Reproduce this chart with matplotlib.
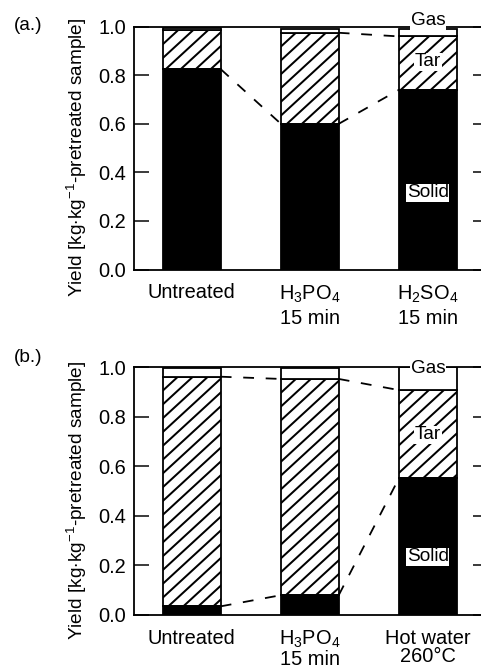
import matplotlib
matplotlib.use("Agg")
import numpy as np
from matplotlib import pyplot as plt
from matplotlib.collections import LineCollection
from matplotlib.transforms import IdentityTransform

plt.rcParams['font.family'] = ['Liberation Sans', 'DejaVu Sans']
plt.rcParams['mathtext.fontset'] = 'custom'
plt.rcParams['mathtext.rm'] = 'Liberation Sans'
plt.rcParams['mathtext.it'] = 'Liberation Sans:italic'

# panel (a)
labels_a = ['Untreated', 'H$_3$PO$_4$\n15 min', 'H$_2$SO$_4$\n15 min']
solid_a = [0.825, 0.60, 0.74]
tar_a = [0.16, 0.375, 0.22]
gas_a = [0.01, 0.015, 0.03]

# panel (b)
labels_b = ['Untreated', 'H$_3$PO$_4$\n15 min', 'Hot water\n260°C']
solid_b = [0.035, 0.08, 0.552]
tar_b = [0.927, 0.873, 0.356]
gas_b = [0.035, 0.045, 0.092]

W, H = 481, 669
fig = plt.figure(figsize=(W / 72, H / 72), dpi=72)

width = 0.49


def hatch(ax, patch, spacing=15.0, slope=0.92):
    # diagonal hatch drawn in pixels, clipped to the bar
    x, y = patch.get_x(), patch.get_y()
    (x0, y0), (x1, y1) = ax.transData.transform(
        [[x, y], [x + patch.get_width(), y + patch.get_height()]])
    h = y1 - y0
    starts = np.arange(x0 - h / slope - spacing, x1 + spacing, spacing)
    segs = [[(c, y0), (c + h / slope, y1)] for c in starts]
    lc = LineCollection(segs, colors='black', linewidths=2.0, zorder=2.5)
    lc.set_transform(IdentityTransform())
    ax.add_collection(lc, autolim=False)
    lc.set_clip_path(patch.get_path(), patch.get_transform())


def panel(rect, labels, solid, tar, gas, links, gas_y, tar_y, solid_y,
          tag, tag_y, lsp):
    ax = fig.add_axes(rect)
    ax.set_xlim(-0.49, 2.51)
    ax.set_ylim(0, 1.0)
    x = np.arange(len(labels))
    solid = np.array(solid)
    tar = np.array(tar)
    gas = np.array(gas)
    ax.bar(x, solid, width, color='black', edgecolor='black', lw=1.8, zorder=2)
    tbars = ax.bar(x, tar, width, bottom=solid, color='white',
                   edgecolor='black', lw=1.8, zorder=3)
    for p in tbars:
        p.set_facecolor('none')
        hatch(ax, p)
    ax.bar(x, gas, width, bottom=solid + tar, color='white', edgecolor='black',
           lw=1.8, zorder=3)

    # dashed guide lines between bars
    for level, i in links:
        y = solid if level == 'solid' else solid + tar
        ax.plot([x[i] + width / 2, x[i + 1] - width / 2], [y[i], y[i + 1]],
                color='black', lw=1.8, linestyle=(0, (6, 6.5)), zorder=3,
                clip_on=False)

    box = dict(facecolor='white', edgecolor='none', pad=0.5)
    ax.text(x[-1], gas_y, 'Gas', ha='center', va='center', fontsize=19,
            bbox=box, zorder=5, clip_on=False)
    ax.text(x[-1], tar_y, 'Tar', ha='center', va='center', fontsize=19,
            bbox=box, zorder=5)
    ax.text(x[-1], solid_y, 'Solid', ha='center', va='center', fontsize=19,
            bbox=box, zorder=5)

    ax.set_yticks(np.arange(0, 1.01, 0.2))
    ax.set_yticklabels(['%.1f' % v for v in np.arange(0, 1.01, 0.2)])
    ax.set_xticks(x)
    ax.set_xticklabels(labels, fontsize=20, linespacing=lsp)
    ax.tick_params(axis='y', direction='in', length=15, width=1.5,
                   right=True, labelsize=20, pad=8)
    ax.tick_params(axis='x', length=0, pad=14)
    for s in ax.spines.values():
        s.set_linewidth(1.8)
        s.set_zorder(4)
    b = rect[1] + rect[3] / 2
    fig.text(77 / W, b - 0.014, 'Yield [kg$\\cdot$kg$^{-1}$-pretreated sample]',
             rotation=90, ha='center', va='center', fontsize=19)
    fig.text(28 / W, tag_y, tag, ha='center', va='center', fontsize=19)
    return ax


panel([134 / W, 1 - 269.5 / H, 354 / W, 242.8 / H], labels_a,
      solid_a, tar_a, gas_a,
      [('solid', 0), ('solid', 1), ('tar', 1)],
      1.025, 0.855, 0.316, '(a.)', 1 - 25 / H, 1.25)

panel([134 / W, 1 - 615 / H, 354 / W, 247.7 / H], labels_b,
      solid_b, tar_b, gas_b,
      [('solid', 0), ('solid', 1), ('tar', 0), ('tar', 1)],
      0.996, 0.727, 0.235, '(b.)', 1 - 358 / H, 0.95)

fig.savefig('out.png', dpi=72)
